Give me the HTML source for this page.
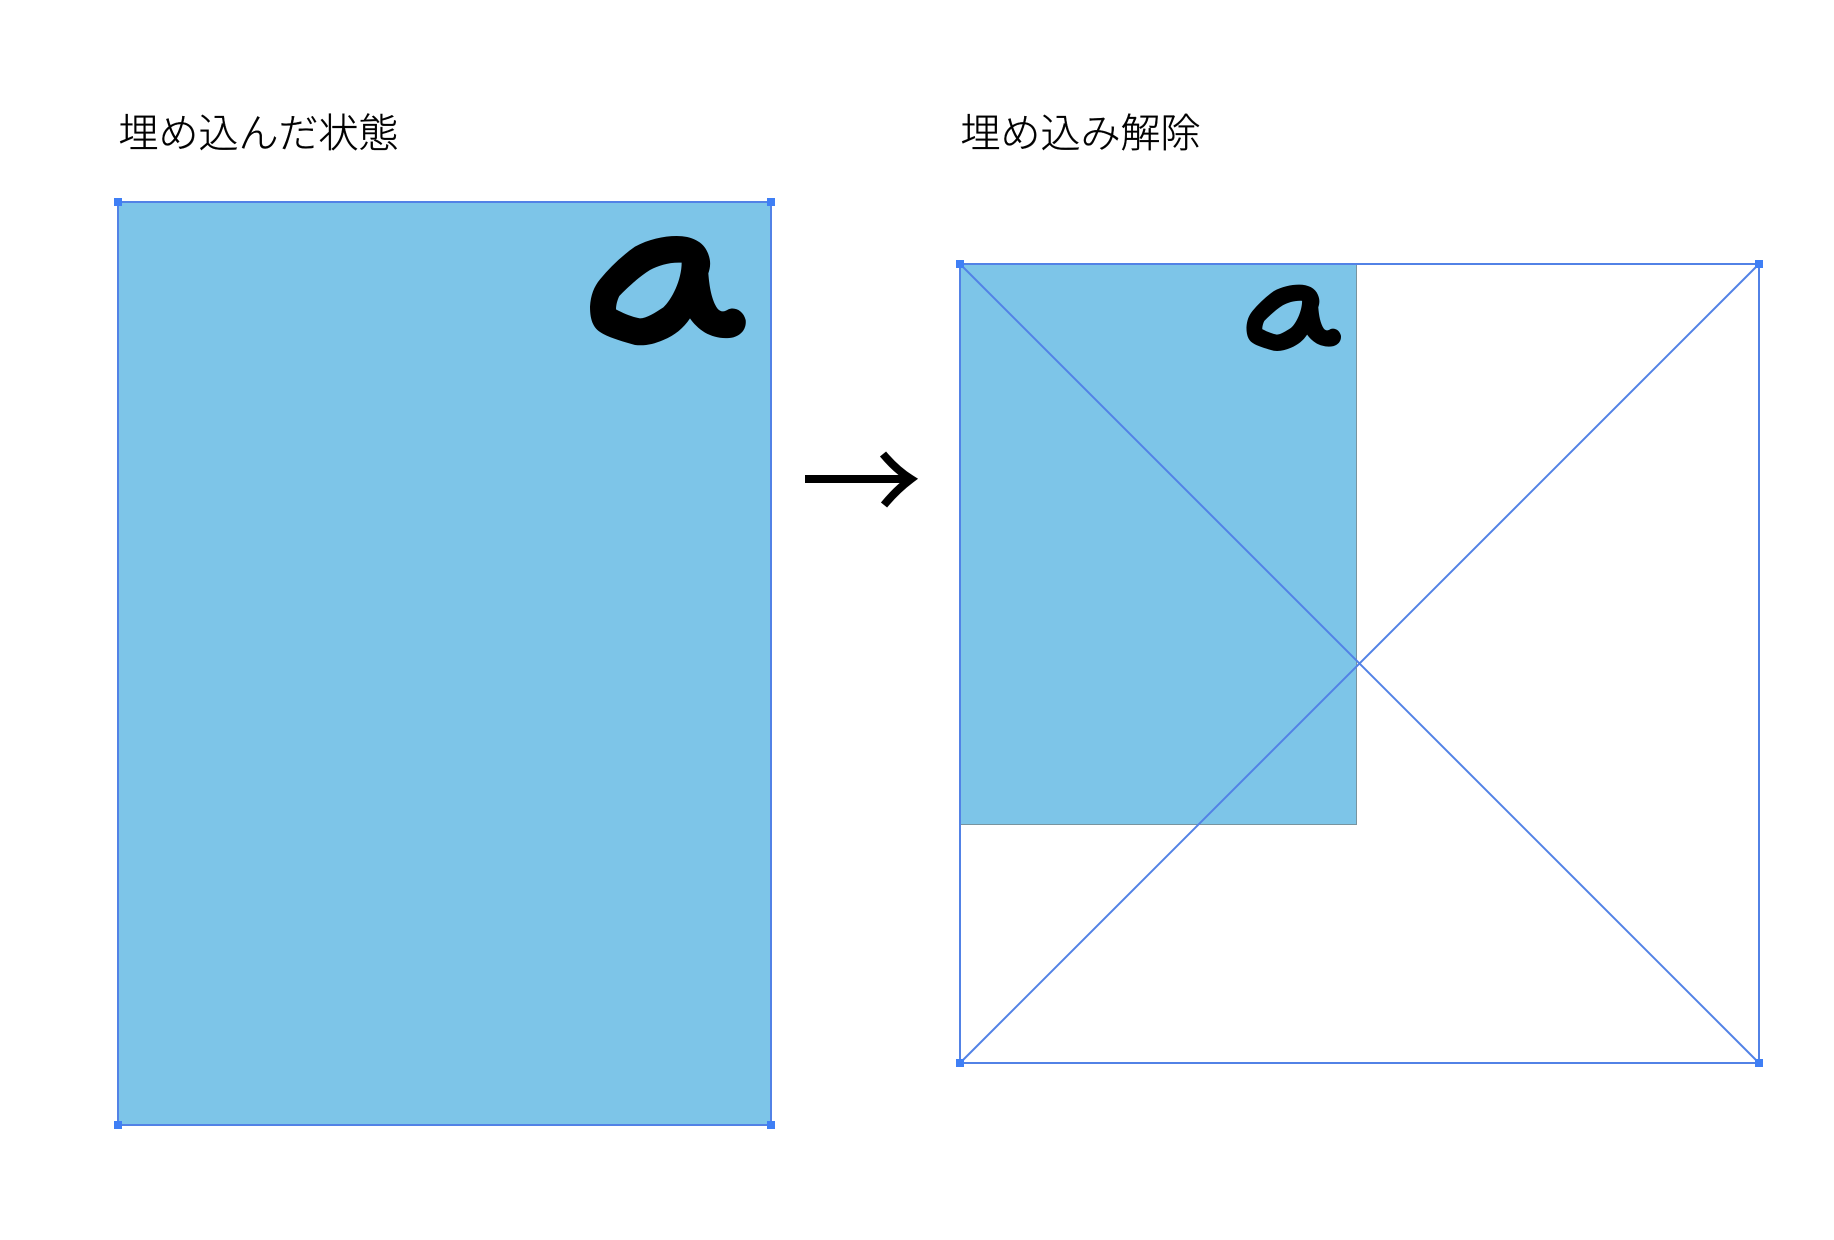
<!DOCTYPE html>
<html lang="ja">
<head>
<meta charset="utf-8">
<title>埋め込み解除</title>
<style>
html,body{margin:0;padding:0;background:#fff;width:1834px;height:1240px;overflow:hidden}
svg{display:block}
text{font-family:"Liberation Sans","Noto Sans CJK JP","IPAGothic",sans-serif;font-size:40px;fill:#000;stroke:#000;stroke-width:.35px;font-weight:300}
</style>
</head>
<body>
<svg width="1834" height="1240" viewBox="0 0 1834 1240" xmlns="http://www.w3.org/2000/svg">
<defs>
<g id="im">
<rect x="118" y="202" width="653" height="923" fill="#7dc5e8"/>
<g transform="translate(570,190) scale(0.33333)">
<path fill="#000" fill-rule="evenodd" d="M60 350 C62 315 72 290 90 268 C120 232 155 198 195 170 C235 148 280 138 320 138 C365 138 400 155 413 188 C425 215 420 235 415 250 C418 290 425 330 442 355 C452 368 465 365 475 358 C495 350 520 362 527 390 C530 415 515 435 490 442 C460 448 430 442 405 428 C385 415 370 400 360 385 C340 415 315 435 280 450 C250 463 225 468 195 465 C160 455 125 445 100 432 C72 418 60 395 60 350 Z M335 218 C300 216 265 226 240 240 C205 262 170 295 148 318 C142 330 138 345 138 358 C160 370 190 382 210 385 C230 385 255 368 280 352 C305 330 335 270 335 218 Z"/>
</g>
</g>
</defs>

<text x="118.5" y="147">埋め込んだ状態</text>
<text x="960.5" y="147">埋め込み解除</text>

<!-- left embedded image -->
<use href="#im"/>
<rect x="118" y="202" width="653" height="923" fill="none" stroke="#5282e6" stroke-width="2"/>
<g fill="#3f7ff5">
<rect x="114" y="198" width="8" height="8"/>
<rect x="767" y="198" width="8" height="8"/>
<rect x="114" y="1121" width="8" height="8"/>
<rect x="767" y="1121" width="8" height="8"/>
</g>

<!-- arrow -->
<path d="M805 479 H910" stroke="#000" stroke-width="8" fill="none"/>
<path d="M883 454 C893 466 903 474 911 479 C903 485 893 494 884 505" stroke="#000" stroke-width="8" fill="none"/>

<!-- right unembedded image -->
<use href="#im" transform="translate(960,264) scale(0.6069) translate(-118,-202)"/>
<path d="M1356.5 264 V824.5 H960" fill="none" stroke="#78949f" stroke-width="1"/>
<g fill="none" stroke="#5282e6" stroke-width="2">
<rect x="960" y="264" width="799" height="799"/>
<path d="M960 264 L1759 1063 M1759 264 L960 1063"/>
</g>
<g fill="#3f7ff5">
<rect x="956" y="260" width="8" height="8"/>
<rect x="1755" y="260" width="8" height="8"/>
<rect x="956" y="1059" width="8" height="8"/>
<rect x="1755" y="1059" width="8" height="8"/>
</g>
</svg>
</body>
</html>
